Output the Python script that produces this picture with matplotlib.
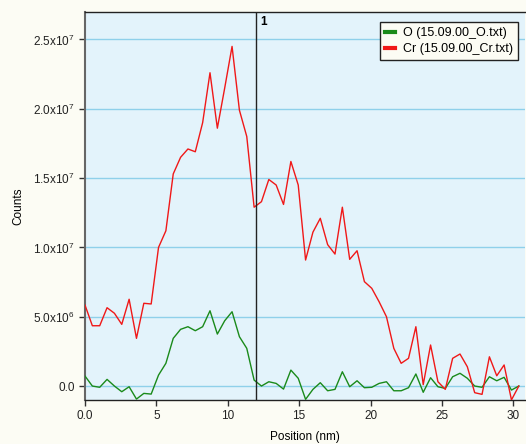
import numpy as np
import matplotlib.pyplot as plt
from matplotlib.ticker import FuncFormatter

plt.rcParams['font.family'] = ['Liberation Sans', 'DejaVu Sans']
plt.rcParams['mathtext.fontset'] = 'custom'
plt.rcParams['mathtext.rm'] = 'Liberation Sans'

# sample spacing along the line scan (nm)
step = 0.515
n_points = 60
position = np.arange(n_points) * step

o_counts = [
    7.2e5, 0.0, -0.9e5, 4.8e5, 0.0, -4.1e5, -0.5e5, -9.4e5, -5.3e5, -5.8e5,
    7.9e5, 1.64e6, 3.44e6, 4.09e6, 4.28e6, 3.99e6, 4.28e6, 5.43e6, 3.75e6, 4.71e6,
    5.36e6, 3.56e6, 2.72e6, 4.3e5, 0.0, 3.1e5, 1.9e5, -2.2e5, 1.15e6, 5.6e5,
    -9.6e5, -2.4e5, 2.4e5, -3.4e5, -2.4e5, 1.03e6, -0.5e5, 3.8e5, -1.2e5, -0.9e5,
    1.9e5, 3.1e5, -3.4e5, -3.4e5, -1.2e5, 8.7e5, -4.5e5, 6.0e5, -0.5e5, -1.7e5,
    6.7e5, 9.2e5, 5.6e5, 0.0, -0.9e5, 6.7e5, 3.8e5, 6.3e5, -2.9e5, 0.0,
]

cr_counts = [
    5.84e6, 4.35e6, 4.35e6, 5.65e6, 5.25e6, 4.45e6, 6.26e6, 3.44e6, 5.97e6, 5.92e6,
    1.00e7, 1.12e7, 1.53e7, 1.65e7, 1.71e7, 1.69e7, 1.90e7, 2.26e7, 1.86e7, 2.15e7,
    2.45e7, 1.99e7, 1.80e7, 1.29e7, 1.33e7, 1.49e7, 1.45e7, 1.31e7, 1.62e7, 1.45e7,
    9.09e6, 1.11e7, 1.21e7, 1.02e7, 9.52e6, 1.29e7, 9.14e6, 9.76e6, 7.53e6, 7.05e6,
    6.08e6, 5.0e6, 2.72e6, 1.64e6, 2.0e6, 4.28e6, 0.1e6, 2.96e6, 3.1e5, -2.4e5,
    2.0e6, 2.31e6, 1.39e6, -4.8e5, -6.0e5, 2.11e6, 7.4e5, 1.52e6, -1.0e6, 0.0,
]

marker_pos = 12.0
y_ticks = [0.0, 5e6, 1e7, 1.5e7, 2e7, 2.5e7]
x_ticks = [0, 5, 10, 15, 20, 25, 30]


def sci_label(v, pos):
    if v == 0:
        return '0.0'
    exp = int(np.floor(np.log10(abs(v))))
    mant = v / 10**exp
    return '%.1fx10$^{%d}$' % (mant, exp)


fig = plt.figure(figsize=(5.26, 4.44), dpi=100, facecolor='#fcfcf4')
ax = fig.add_axes([0.1616, 0.099, 0.836, 0.873])
ax.set_facecolor('#e3f3fb')

for y in y_ticks:
    ax.axhline(y, color='#8fd0ea', linewidth=1.0, zorder=1)

ax.plot(position, o_counts, color='#1a8a1a', linewidth=1.0, zorder=3,
        label='O (15.09.00_O.txt)')
ax.plot(position, cr_counts, color='#f01818', linewidth=1.0, zorder=3,
        label='Cr (15.09.00_Cr.txt)')

ax.axvline(marker_pos, color='#222222', linewidth=1.0, zorder=4)
ax.text(marker_pos + 0.25, 2.67e7, '1', fontsize=8.5, fontweight='bold',
        va='top', ha='left')

ax.set_xlim(0, 30.8)
ax.set_ylim(-1.01e6, 2.695e7)
ax.set_xticks(x_ticks)
ax.xaxis.set_major_formatter(FuncFormatter(lambda v, p: '0.0' if v == 0 else '%d' % v))
ax.set_yticks(y_ticks)
ax.yaxis.set_major_formatter(FuncFormatter(sci_label))
ax.tick_params(labelsize=8.5, length=4, width=1, colors='#333333', labelcolor='#222222')

ax.spines['left'].set_color('#666666')
ax.spines['left'].set_linewidth(1.5)
ax.spines['right'].set_visible(False)
for s in ['top', 'bottom']:
    ax.spines[s].set_color('#222222')
    ax.spines[s].set_linewidth(1.0)

ax.set_xlabel('Position (nm)', fontsize=8.5, labelpad=6)
ax.set_ylabel('Counts', fontsize=8.5, labelpad=6)

leg = ax.legend(loc='upper right', bbox_to_anchor=(0.984, 0.975), fontsize=9,
                frameon=True, fancybox=False, handlelength=0.8, handletextpad=0.6,
                borderpad=0.4, labelspacing=0.35, borderaxespad=0)
leg.get_frame().set_edgecolor('#222222')
leg.get_frame().set_facecolor('#fcfcf4')
leg.get_frame().set_alpha(1)
for line in leg.get_lines():
    line.set_linewidth(3)

fig.savefig('out.png', dpi=100, facecolor=fig.get_facecolor())
